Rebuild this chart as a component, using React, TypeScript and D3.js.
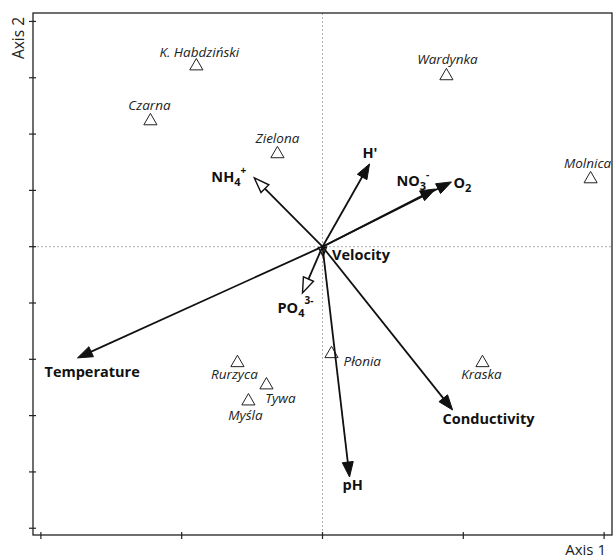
import React from "react";
import * as d3 from "d3";

// Site scores (triangles)
const siteNames = ["K. Habdziński", "Wardynka", "Czarna", "Zielona", "Molnica", "Rurzyca", "Tywa", "Myśla", "Płonia", "Kraska"];
const siteX = [-0.448, 0.44, -0.611, -0.16, 0.952, -0.302, -0.199, -0.263, 0.032, 0.568];
const siteY = [0.645, 0.61, 0.45, 0.333, 0.244, -0.409, -0.488, -0.545, -0.377, -0.409];

// Environmental variable vectors
const varNames = ["Temperature", "NH4+", "H'", "NO3-", "O2", "Velocity", "PO43-", "pH", "Conductivity"];
const varX = [-0.87, -0.242, 0.167, 0.401, 0.458, 0.002, -0.071, 0.096, 0.462];
const varY = [-0.395, 0.244, 0.294, 0.205, 0.23, -0.034, -0.164, -0.818, -0.58];
const varOpen = [false, true, false, false, false, true, true, false, false];

const xTicks = [-1, -0.5, 0, 0.5, 1];
const yTicks = [-1, -0.8, -0.6, -0.4, -0.2, 0, 0.2, 0.4, 0.6, 0.8];

// layout: label offsets (px) relative to marker / arrow tip
const siteLabelOffset: Record<string, [number, number, string]> = {
  "K. Habdziński": [3, -8, "middle"],
  Wardynka: [1, -11, "middle"],
  Czarna: [-1, -10, "middle"],
  Zielona: [0, -10, "middle"],
  Molnica: [-3, -10, "middle"],
  Rurzyca: [-3, 17, "middle"],
  Tywa: [14, 19, "middle"],
  Myśla: [-3, 20, "middle"],
  Płonia: [12, 13, "start"],
  Kraska: [-1, 17, "middle"],
};
const varLabelOffset: Record<string, [number, number]> = {
  Temperature: [-33, 19],
  "NH4+": [-43, 4],
  "H'": [-7, -6],
  "NO3-": [-39, -3],
  O2: [2, 6],
  Velocity: [9, 4],
  "PO43-": [-25, 20],
  pH: [-7, 13],
  Conductivity: [-10, 14],
};

const FONT = "'Open Sans', sans-serif";

function labelContent(name: string) {
  if (name === "NH4+")
    return (<>NH<tspan dy={4} fontSize={11}>4</tspan><tspan dy={-12} fontSize={10}>+</tspan></>);
  if (name === "NO3-")
    return (<>NO<tspan dy={4} fontSize={11}>3</tspan><tspan dy={-12} fontSize={10}>-</tspan></>);
  if (name === "O2") return (<>O<tspan dy={4} fontSize={11}>2</tspan></>);
  if (name === "PO43-")
    return (<>PO<tspan dy={4} fontSize={11}>4</tspan><tspan dy={-13} fontSize={10}>3-</tspan></>);
  return name;
}

export default function App() {
  const W = 614, H = 560;
  const x = d3.scaleLinear().domain([-1.028, 1.028]).range([33, 612]);
  const y = d3.scaleLinear().domain([-1.024, 0.83]).range([535, 13]);
  const x0 = x(0), y0 = y(0);
  const left = x.range()[0], right = x.range()[1];
  const bottom = y.range()[0], top = y.range()[1];

  const tri = d3.symbol().type(d3.symbolTriangle).size(75)();

  const arrows = varNames.map((n, i) => {
    const tx = x(varX[i]), ty = y(varY[i]);
    const dx = tx - x0, dy = ty - y0;
    const len = Math.hypot(dx, dy);
    const ux = dx / len, uy = dy / len;
    const small = n === "Velocity";
    const hl = small ? 9 : 15;
    const hw = small ? 4 : 5.5;
    const bx = tx - ux * hl, by = ty - uy * hl;
    const px = -uy, py = ux;
    const head = `M${tx},${ty}L${bx + px * hw},${by + py * hw}L${bx - px * hw},${by - py * hw}Z`;
    const lineEnd = varOpen[i] ? [bx, by] : [tx - ux * 3, ty - uy * 3];
    return { n, tx, ty, head, lineEnd, open: varOpen[i] };
  });

  return (
    <svg width={W} height={H} style={{ display: "block", position: "absolute", left: 0, top: 0, background: "#fff" }}>
      <rect width={W} height={H} fill="#fff" />
      {/* origin dashed lines */}
      <line x1={left} x2={right} y1={y0} y2={y0} stroke="#9a9a9a" strokeWidth={0.8} strokeDasharray="2,2" />
      <line x1={x0} x2={x0} y1={top} y2={bottom} stroke="#9a9a9a" strokeWidth={0.8} strokeDasharray="2,2" />
      {/* frame */}
      <rect x={left} y={top} width={right - left} height={bottom - top} fill="none" stroke="#222" strokeWidth={1.3} />
      {yTicks.map((t) => (
        <line key={"yt" + t} x1={left - 4} x2={left + 3} y1={y(t)} y2={y(t)} stroke="#222" strokeWidth={1.2} />
      ))}
      {xTicks.map((t) => (
        <line key={"xt" + t} x1={x(t)} x2={x(t)} y1={bottom - 3} y2={bottom + 4} stroke="#222" strokeWidth={1.2} />
      ))}
      <text x={606} y={555} textAnchor="end" fontFamily={FONT} fontSize={15} fill="#222">Axis 1</text>
      <text transform={`translate(24,38) rotate(-90)`} textAnchor="middle" fontFamily={FONT} fontSize={15.5} fill="#222">Axis 2</text>

      {/* sites */}
      {siteNames.map((n, i) => {
        const sx = x(siteX[i]), sy = y(siteY[i]);
        const [ox, oy, anchor] = siteLabelOffset[n];
        return (
          <g key={n}>
            <path d={tri!} transform={`translate(${sx},${sy + 1})`} fill="#fff" stroke="#222" strokeWidth={1} />
            <text x={sx + ox} y={sy + oy} textAnchor={anchor as any} fontFamily={FONT} fontStyle="italic" fontSize={13.5} fill="#222">{n}</text>
          </g>
        );
      })}

      {/* arrows */}
      {arrows.map((a) => (
        <g key={a.n}>
          <line x1={x0} y1={y0} x2={a.lineEnd[0]} y2={a.lineEnd[1]} stroke="#111" strokeWidth={1.8} />
          <path d={a.head} fill={a.open ? "#fff" : "#111"} stroke="#111" strokeWidth={a.open ? 1.4 : 1} strokeLinejoin="miter" />
        </g>
      ))}
      {arrows.map((a) => {
        const [ox, oy] = varLabelOffset[a.n];
        return (
          <text key={"l" + a.n} x={a.tx + ox} y={a.ty + oy} fontFamily={FONT} fontWeight="bold" fontSize={14.5} fill="#111">
            {labelContent(a.n)}
          </text>
        );
      })}
    </svg>
  );
}
